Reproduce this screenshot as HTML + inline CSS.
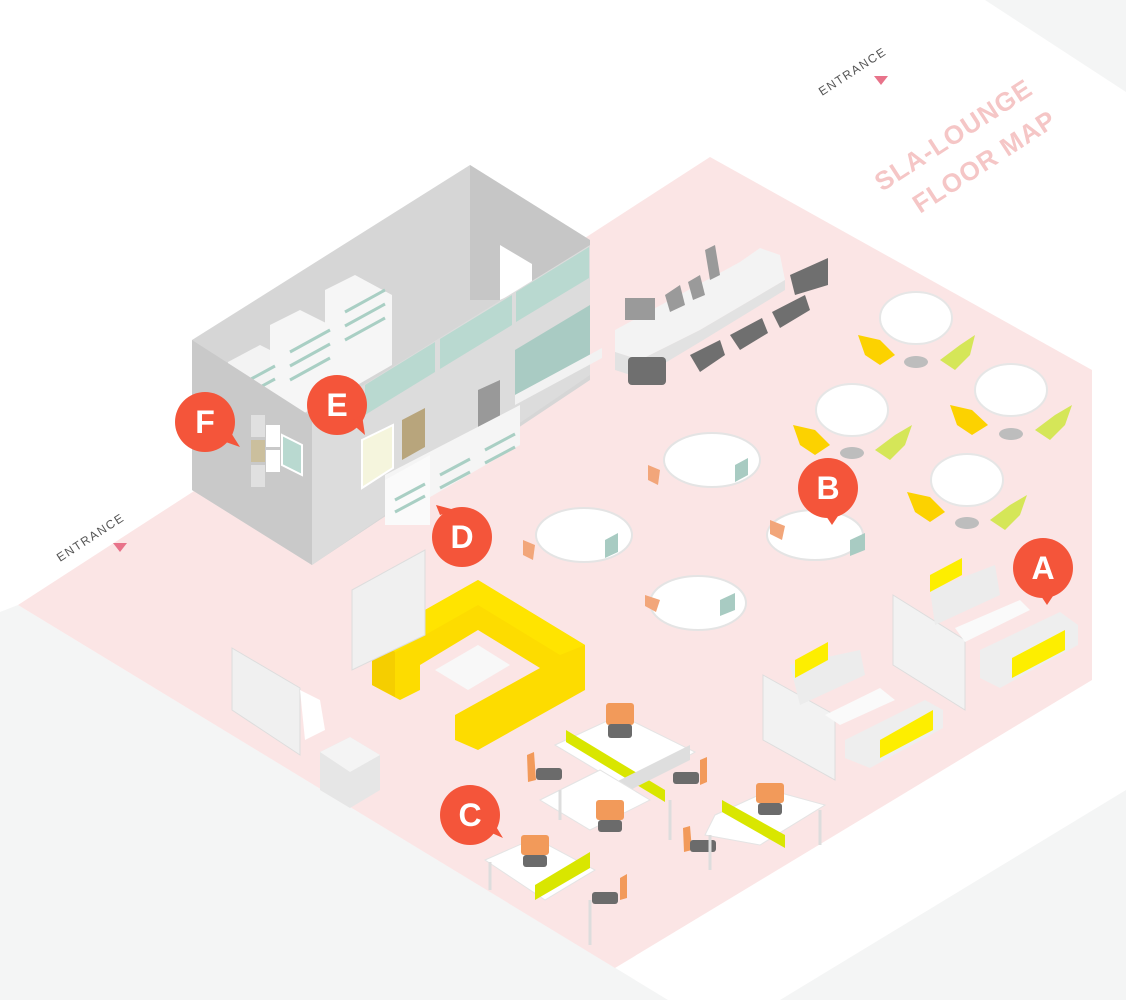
<!DOCTYPE html>
<html><head><meta charset="utf-8"><style>
html,body{margin:0;padding:0;background:#fff;}
svg{display:block;}
text{font-family:"Liberation Sans",sans-serif;}
</style></head><body>
<svg width="1126" height="1000" viewBox="0 0 1126 1000" xmlns="http://www.w3.org/2000/svg">
<polygon points="985,0 1126,0 1126,92" fill="#f4f5f5"/>
<polygon points="0,612 18,605 668,1000 0,1000" fill="#f4f5f5"/>
<polygon points="1126,790 1126,1000 780,1000" fill="#f4f5f5"/>
<polygon points="18,605 710,157 1092,370 1092,680 615,968" fill="#fbe5e5"/>

<g transform="translate(60,562) rotate(-33)"><text font-size="12" fill="#555" letter-spacing="1.5">ENTRANCE</text></g>
<polygon points="113,543 127,543 120,552" fill="#e8738a"/>
<g transform="translate(822,96) rotate(-33)"><text font-size="12" fill="#555" letter-spacing="1.5">ENTRANCE</text></g>
<polygon points="874,76 888,76 881,85" fill="#e8738a"/>
<g transform="translate(882,192) rotate(-33)"><text font-size="26" font-weight="bold" fill="#f5c6c6" letter-spacing="1">SLA-LOUNGE</text></g>
<g transform="translate(920,214) rotate(-33)"><text font-size="26" font-weight="bold" fill="#f5c6c6" letter-spacing="1">FLOOR MAP</text></g>

<polygon points="192,340 470,165 590,240 590,380 312,565 192,490" fill="#d6d6d6"/>
<polygon points="470,165 590,240 590,250 500,300 470,300" fill="#c6c6c6"/>
<polygon points="500,245 532,264 532,285 500,300" fill="#fff"/>
<polygon points="228,362 260,345 300,365 300,410 228,440" fill="#f3f3f3"/>
<polygon points="270,325 300,310 340,330 340,395 300,415 270,400" fill="#f6f6f6"/>
<polygon points="325,290 355,275 392,295 392,365 340,395 325,385" fill="#f6f6f6"/>
<g stroke="#a9cfc4" stroke-width="3">
<line x1="240" y1="385" x2="275" y2="366"/><line x1="240" y1="398" x2="275" y2="379"/>
<line x1="290" y1="352" x2="330" y2="330"/><line x1="290" y1="366" x2="330" y2="344"/><line x1="290" y1="380" x2="330" y2="358"/>
<line x1="345" y1="312" x2="385" y2="290"/><line x1="345" y1="326" x2="385" y2="304"/><line x1="345" y1="340" x2="385" y2="318"/>
</g>
<polygon points="192,340 312,417 312,565 192,490" fill="#c9c9c9"/>
<polygon points="312,417 590,245 590,375 312,565" fill="#dcdcdc"/>
<polygon points="365,385 435,342 435,372 365,415" fill="#b9d9d0"/>
<polygon points="440,339 512,295 512,325 440,369" fill="#b9d9d0"/>
<polygon points="516,292 589,247 589,278 516,322" fill="#b9d9d0"/>
<polygon points="515,350 590,305 590,355 515,395" fill="#a9cbc3"/>
<polygon points="515,395 602,348 602,358 515,405" fill="#f2f2f2"/>
<rect x="251" y="415" width="14" height="22" fill="#e0e0e0"/>
<rect x="266" y="425" width="14" height="22" fill="#fff"/>
<rect x="251" y="440" width="14" height="22" fill="#cbbf9d"/>
<rect x="266" y="450" width="14" height="22" fill="#fff"/>
<rect x="251" y="465" width="14" height="22" fill="#e0e0e0"/>
<polygon points="282,435 302,445 302,475 282,465" fill="#b9d9d0" stroke="#fff" stroke-width="2"/>
<polygon points="362,440 393,425 393,468 362,488" fill="#f5f5dd" stroke="#fff" stroke-width="2"/>
<polygon points="402,420 425,408 425,447 402,460" fill="#b8a57c"/>
<polygon points="478,390 500,380 500,420 478,432" fill="#999"/>
<polygon points="385,475 520,405 520,445 425,500 385,500" fill="#f5f5f5"/>
<polygon points="385,480 430,455 430,525 385,525" fill="#fafafa"/>
<g stroke="#a9cfc4" stroke-width="3">
<line x1="395" y1="500" x2="425" y2="484"/><line x1="395" y1="512" x2="425" y2="496"/>
<line x1="440" y1="475" x2="470" y2="459"/><line x1="440" y1="488" x2="470" y2="472"/>
<line x1="485" y1="450" x2="515" y2="434"/><line x1="485" y1="463" x2="515" y2="447"/>
</g>

<polygon points="615,330 740,262 760,248 780,255 785,280 700,330 640,360 615,352" fill="#f3f3f3"/>
<polygon points="615,352 640,360 700,330 785,280 785,290 700,342 640,378 615,370" fill="#e2e2e2"/>
<g fill="#9a9a9a">
<rect x="625" y="298" width="30" height="22"/><polygon points="665,295 680,285 685,305 670,312"/><polygon points="688,282 700,275 705,295 693,300"/><polygon points="705,250 715,245 720,275 710,280"/>
</g>
<g fill="#6f6f6f">
<rect x="628" y="357" width="38" height="28" rx="4"/>
<polygon points="690,355 720,340 725,355 700,372"/><polygon points="730,335 762,318 768,333 740,350"/><polygon points="772,312 805,295 810,310 780,328"/><polygon points="790,275 828,258 828,285 795,295"/>
</g>

<g fill="#fff" stroke="#e6e6e6" stroke-width="2">
<ellipse cx="916" cy="318" rx="36" ry="26"/>
<ellipse cx="1011" cy="390" rx="36" ry="26"/>
<ellipse cx="852" cy="410" rx="36" ry="26"/>
<ellipse cx="967" cy="480" rx="36" ry="26"/>
</g>
<g fill="#bdbdbd"><ellipse cx="916" cy="362" rx="12" ry="6"/><ellipse cx="1011" cy="434" rx="12" ry="6"/><ellipse cx="852" cy="453" rx="12" ry="6"/><ellipse cx="967" cy="523" rx="12" ry="6"/></g>
<g fill="#fcd200">
<polygon points="858,335 880,340 895,355 880,365 865,355"/>
<polygon points="950,405 972,410 988,425 972,435 957,425"/>
<polygon points="793,425 815,430 830,445 815,455 800,445"/>
<polygon points="907,492 930,497 945,512 930,522 915,512"/>
</g>
<g fill="#d5e658">
<polygon points="975,335 960,345 940,360 955,370 970,355"/>
<polygon points="1072,405 1055,415 1035,430 1050,440 1065,425"/>
<polygon points="912,425 895,435 875,450 890,460 905,445"/>
<polygon points="1027,495 1010,505 990,520 1005,530 1020,515"/>
</g>

<g fill="#fff" stroke="#e4e4e4" stroke-width="2">
<ellipse cx="712" cy="460" rx="48" ry="27"/>
<ellipse cx="584" cy="535" rx="48" ry="27"/>
<ellipse cx="698" cy="603" rx="48" ry="27"/>
<ellipse cx="815" cy="535" rx="48" ry="25"/>
</g>
<g fill="#f2a67a"><polygon points="648,465 660,470 658,485 648,480"/><polygon points="523,540 535,545 533,560 523,555"/><polygon points="645,595 660,600 656,612 645,606"/><polygon points="770,520 785,526 782,540 770,534"/></g>
<g fill="#a8cbc2"><polygon points="735,465 748,458 748,475 735,482"/><polygon points="605,540 618,533 618,552 605,558"/><polygon points="720,600 735,593 735,610 720,616"/><polygon points="850,540 865,533 865,550 850,556"/></g>

<polygon points="372,640 478,580 585,645 585,690 478,750 455,740 455,715 540,668 478,630 420,665 420,690 400,700 372,685" fill="#fddc00"/>
<polygon points="372,640 478,580 585,645 560,655 478,605 395,652" fill="#ffe400"/>
<polygon points="372,640 395,652 395,697 372,685" fill="#f5ce00"/>
<polygon points="435,670 478,645 510,665 468,690" fill="#f8f8f8"/>

<polygon points="352,590 425,550 425,635 352,670" fill="#f0f0f0" stroke="#ddd"/>
<polygon points="232,648 300,688 300,755 232,710" fill="#f0f0f0" stroke="#ddd"/>
<polygon points="300,690 320,700 325,730 305,740" fill="#fff"/>
<polygon points="320,752 350,737 380,755 380,790 350,808 320,790" fill="#e6e6e6"/>
<polygon points="320,752 350,737 380,755 350,772" fill="#f4f4f4"/>

<polygon points="893,595 965,640 965,710 893,665" fill="#f2f2f2" stroke="#ddd"/>
<polygon points="930,590 995,565 1000,595 935,625" fill="#ececec"/>
<polygon points="930,575 962,558 962,575 930,592" fill="#fdee00"/>
<polygon points="955,628 1020,600 1030,610 965,642" fill="#fafafa"/>
<polygon points="980,650 1060,612 1078,625 1078,645 1000,688 980,678" fill="#eeeeee"/>
<polygon points="1012,658 1065,630 1065,650 1012,678" fill="#fdee00"/>

<polygon points="763,675 835,715 835,780 763,740" fill="#f2f2f2" stroke="#ddd"/>
<polygon points="790,665 860,650 865,675 800,705" fill="#ececec"/>
<polygon points="795,660 828,642 828,660 795,678" fill="#fdee00"/>
<polygon points="825,715 880,688 895,700 840,725" fill="#fafafa"/>
<polygon points="845,740 925,700 943,710 943,728 870,768 845,758" fill="#eeeeee"/>
<polygon points="880,740 933,710 933,730 880,758" fill="#fdee00"/>

<polygon points="555,745 620,715 695,752 630,790" fill="#fff" stroke="#e4e4e4"/>
<polygon points="566,730 665,790 665,802 566,742" fill="#d9e600"/>
<polygon points="600,790 690,745 690,760 600,805" fill="#dedede"/>
<polygon points="540,800 600,770 650,800 590,830" fill="#fff" stroke="#e4e4e4"/>
<polygon points="715,815 770,790 825,805 760,845 705,835" fill="#fff" stroke="#e4e4e4"/>
<polygon points="722,800 785,835 785,848 722,812" fill="#d9e600"/>
<polygon points="485,860 535,838 595,870 545,900" fill="#fff" stroke="#e4e4e4"/>
<polygon points="535,885 590,852 590,868 535,900" fill="#d9e600"/>
<g fill="#f29a5a">
<rect x="606" y="703" width="28" height="22" rx="3"/><rect x="596" y="800" width="28" height="20" rx="3"/><rect x="756" y="783" width="28" height="20" rx="3"/><rect x="521" y="835" width="28" height="20" rx="3"/>
<polygon points="527,755 534,752 536,780 528,782"/><polygon points="700,760 707,757 707,782 700,785"/><polygon points="683,828 690,826 692,850 684,852"/><polygon points="620,878 627,874 627,898 620,900"/>
</g>
<g fill="#6b6b6b">
<rect x="608" y="724" width="24" height="14" rx="3"/><rect x="598" y="820" width="24" height="12" rx="3"/><rect x="758" y="803" width="24" height="12" rx="3"/><rect x="523" y="855" width="24" height="12" rx="3"/>
<rect x="536" y="768" width="26" height="12" rx="3"/><rect x="673" y="772" width="26" height="12" rx="3"/><rect x="690" y="840" width="26" height="12" rx="3"/><rect x="592" y="892" width="26" height="12" rx="3"/>
</g>
<g stroke="#ddd" stroke-width="3">
<line x1="490" y1="862" x2="490" y2="890"/><line x1="590" y1="900" x2="590" y2="945"/><line x1="560" y1="790" x2="560" y2="820"/><line x1="670" y1="800" x2="670" y2="840"/><line x1="710" y1="835" x2="710" y2="870"/><line x1="820" y1="810" x2="820" y2="845"/>
</g>

<g fill="#f4553a">
<circle cx="205" cy="422" r="30"/><polygon points="220,440 240,447 228,428"/>
<circle cx="337" cy="405" r="30"/><polygon points="350,422 365,435 362,415"/>
<circle cx="462" cy="537" r="30"/><polygon points="440,515 436,505 455,510"/>
<circle cx="828" cy="488" r="30"/><polygon points="822,510 832,525 842,510"/>
<circle cx="1043" cy="568" r="30"/><polygon points="1037,590 1047,605 1057,590"/>
<circle cx="470" cy="815" r="30"/><polygon points="485,830 503,838 492,820"/>
</g>
<g fill="#fff" font-size="32" font-weight="bold" text-anchor="middle">
<text x="205" y="433">F</text><text x="337" y="416">E</text><text x="462" y="548">D</text><text x="828" y="499">B</text><text x="1043" y="579">A</text><text x="470" y="826">C</text>
</g>
</svg>
</body></html>
